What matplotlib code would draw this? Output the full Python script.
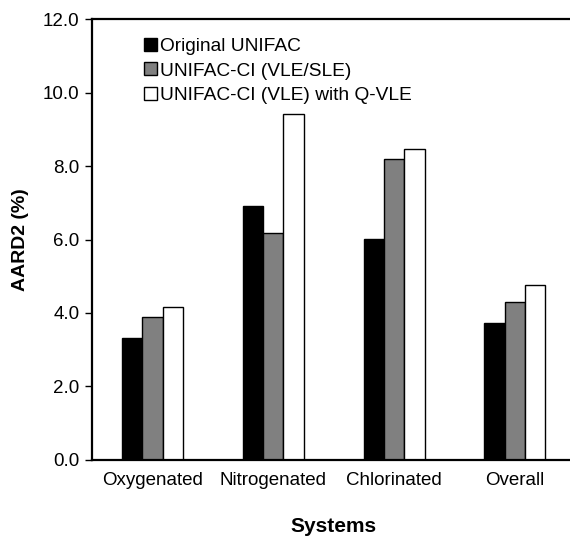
import numpy as np
import matplotlib
matplotlib.use('Agg')
import matplotlib.pyplot as plt

plt.rcParams['font.family'] = ['Liberation Sans', 'DejaVu Sans']

# AARD2 (%) by system type for each model
systems = ['Oxygenated', 'Nitrogenated', 'Chlorinated', 'Overall']
original_unifac = [3.31, 6.91, 6.01, 3.72]
unifac_ci_vle_sle = [3.88, 6.18, 8.19, 4.30]
unifac_ci_qvle = [4.15, 9.41, 8.46, 4.76]
series_names = ['Original UNIFAC', 'UNIFAC-CI (VLE/SLE)', 'UNIFAC-CI (VLE) with Q-VLE']
y_ticks = [0.0, 2.0, 4.0, 6.0, 8.0, 10.0, 12.0]

fig = plt.figure(figsize=(5.70, 5.37), dpi=100)
ax = fig.add_axes([0.1614, 0.1434, 0.848, 0.8212])

x = np.arange(len(systems))
w = 0.168
colors = ['black', '#808080', 'white']
for i, (vals, c, name) in enumerate(zip([original_unifac, unifac_ci_vle_sle, unifac_ci_qvle], colors, series_names)):
    ax.bar(x + (i - 1) * w, vals, width=w, color=c, edgecolor='black', linewidth=1.0, label=name)

ax.set_xlim(-0.5, 3.5)
ax.set_ylim(0, 12)
ax.set_yticks(y_ticks)
ax.set_yticklabels(['%.1f' % t for t in y_ticks], fontsize=13.5)
ax.set_xticks(x)
ax.set_xticklabels(systems, fontsize=13.5)
ax.tick_params(axis='x', length=0, pad=9)
ax.tick_params(axis='y', length=5, width=1, pad=4, direction='out')

for s in ['left', 'bottom', 'top']:
    ax.spines[s].set_linewidth(1.6)
ax.spines['right'].set_visible(False)

ax.set_ylabel('AARD2 (%)', fontsize=14, fontweight='bold', labelpad=10)
ax.set_xlabel('Systems', fontsize=15, fontweight='bold', labelpad=20)

ax.legend(loc='upper left', bbox_to_anchor=(0.08, 0.988), frameon=False, fontsize=13.8,
          handlelength=0.68, handleheight=0.68, handletextpad=0.15, labelspacing=0.38,
          borderpad=0.2)

fig.savefig('out.png', dpi=100)
